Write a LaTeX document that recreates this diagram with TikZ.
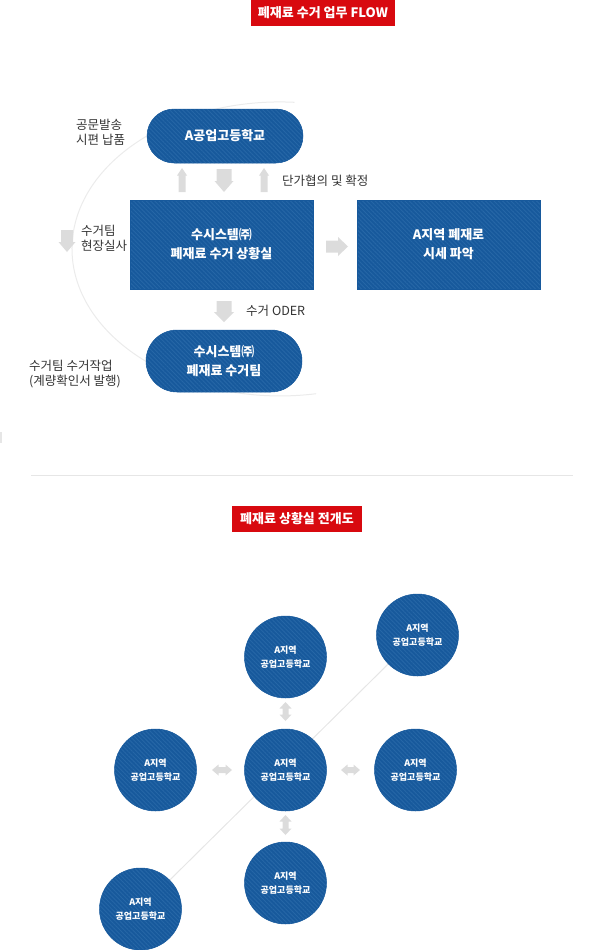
\documentclass[tikz,border=0pt]{standalone}
\usepackage{fontspec}
\setmainfont{Noto Sans CJK KR}
\usetikzlibrary{patterns.meta,shapes.misc,backgrounds}
\definecolor{bluebase}{HTML}{17599C}
\definecolor{bluehatch}{HTML}{2667A7}
\definecolor{redbg}{HTML}{D8090F}
\definecolor{agray}{HTML}{DCDCDC}
\definecolor{lgray}{HTML}{E6E6E6}
\definecolor{arcgray}{HTML}{EBEBEB}
\definecolor{txt}{HTML}{333333}
\tikzset{
  bluefill/.style={preaction={fill=bluebase},
    pattern={Lines[angle=-45,distance=3pt,line width=0.9pt]},
    pattern color=bluehatch, draw=bluebase, line width=0.5pt,
    text=white, align=center, inner sep=0pt},
  pillbox/.style={bluefill, rounded rectangle, minimum width=156pt,
    font=\bfseries\fontsize{13}{19}\selectfont},
  rectbox/.style={bluefill, rectangle, minimum width=183pt, minimum height=89pt,
    font=\bfseries\fontsize{13}{19}\selectfont},
  schoolcircle/.style={bluefill, circle, minimum size=82pt,
    font=\bfseries\fontsize{9}{14}\selectfont},
  titlebox/.style={fill=redbg, text=white, minimum height=26pt, inner sep=0pt,
    font=\bfseries\fontsize{13}{16}\selectfont},
  note/.style={text=txt, align=left, inner sep=0pt, anchor=west,
    font=\fontsize{12.5}{15}\selectfont},
  blockarrow/.style={fill=agray},
  thinline/.style={draw=lgray, line width=1pt},
  arcline/.style={draw=arcgray, line width=1pt}
}
\begin{document}
\begin{tikzpicture}[x=1pt,y=-1pt]
\useasboundingbox (0,0) rectangle (600,950);

% titles
\node[titlebox, minimum width=144pt] (t1) at (323,13) {폐재료 수거 업무 FLOW};
\node[titlebox, minimum width=130pt] (t2) at (297,519) {폐재료 상황실 전개도};

% flow boxes
\node[pillbox, minimum height=54pt] (school) at (225,136) {A공업고등학교};
\node[rectbox] (room) at (221.5,244.5) {수시스템㈜\\폐재료 수거 상황실};
\node[rectbox] (price) at (448.5,244.5) {A지역 폐재로\\시세 파악};
\node[pillbox, minimum height=62pt] (team) at (224,361) {수시스템㈜\\폐재료 수거팀};

% arc behind
\begin{scope}[on background layer]
\draw[arcline] (294.5,102.3) arc[start angle=274, end angle=80, x radius=208, y radius=147];
\end{scope}

% notes
\node[note] (n1) at (76,132.5) {공문발송\\시편 납품};
\node[note] (n2) at (282,181) {단가협의 및 확정};
\node[note] (n3) at (81,238.5) {수거팀\\현장실사};
\node[note] (n4) at (246,311) {수거 ODER};
\node[note] (n5) at (29,374.5) {수거팀 수거작업\\(계량확인서 발행)};

% block arrows top
\fill[blockarrow] (182,168) -- (187,175.5) -- (185.5,175.5) -- (185.5,192) -- (178.5,192) -- (178.5,175.5) -- (177,175.5) -- cycle;
\fill[blockarrow] (264,168) -- (269,175.5) -- (267.5,175.5) -- (267.5,192) -- (260.5,192) -- (260.5,175.5) -- (259,175.5) -- cycle;
\fill[blockarrow] (216.5,169) -- (231.5,169) -- (231.5,181) -- (233.5,181) -- (224,192) -- (214.5,181) -- (216.5,181) -- cycle;
% left down arrow
\fill[blockarrow] (61,230) -- (73,230) -- (73,242) -- (75.5,242) -- (67,252) -- (58.5,242) -- (61,242) -- cycle;
% right arrow
\fill[blockarrow] (326,240.5) -- (338,240.5) -- (338,237) -- (348,246.5) -- (338,256) -- (338,252.5) -- (326,252.5) -- cycle;
% down arrow below room
\fill[blockarrow] (216.5,301) -- (231.5,301) -- (231.5,312) -- (234,312) -- (224,322) -- (214,312) -- (216.5,312) -- cycle;

% small mark
\fill[lgray] (0,432) rectangle (1.6,443);

% separator
\coordinate (sepL) at (31,475);
\coordinate (sepR) at (573,475);
\draw[draw=lgray, line width=1pt] (sepL) -- (sepR);

% circles
\node[schoolcircle] (ctop) at (285.5,657) {A지역\\공업고등학교};
\node[schoolcircle] (ctr) at (417.5,635) {A지역\\공업고등학교};
\node[schoolcircle] (cleft) at (155.5,770) {A지역\\공업고등학교};
\node[schoolcircle] (ccenter) at (285.5,770) {A지역\\공업고등학교};
\node[schoolcircle] (cright) at (415.5,770) {A지역\\공업고등학교};
\node[schoolcircle] (cbottom) at (285.5,883) {A지역\\공업고등학교};
\node[schoolcircle] (cbl) at (140.5,909) {A지역\\공업고등학교};

\begin{scope}[on background layer]
\draw[thinline] (cbl.center) -- (ctr.center);
\end{scope}

% double arrows vertical
\fill[blockarrow] (285.5,702) -- (291.5,708.5) -- (288.5,708.5) -- (288.5,714.5) -- (291.5,714.5) -- (285.5,721) -- (279.5,714.5) -- (282.5,714.5) -- (282.5,708.5) -- (279.5,708.5) -- cycle;
\fill[blockarrow] (285.5,815) -- (291.5,821.5) -- (288.5,821.5) -- (288.5,828.5) -- (291.5,828.5) -- (285.5,835) -- (279.5,828.5) -- (282.5,828.5) -- (282.5,821.5) -- (279.5,821.5) -- cycle;
% double arrows horizontal
\fill[blockarrow] (212,770) -- (218.5,764.5) -- (218.5,767) -- (225.5,767) -- (225.5,764.5) -- (232,770) -- (225.5,775.5) -- (225.5,773) -- (218.5,773) -- (218.5,775.5) -- cycle;
\fill[blockarrow] (341,770) -- (347.5,764.5) -- (347.5,767) -- (353.5,767) -- (353.5,764.5) -- (360,770) -- (353.5,775.5) -- (353.5,773) -- (347.5,773) -- (347.5,775.5) -- cycle;
\end{tikzpicture}
\end{document}
